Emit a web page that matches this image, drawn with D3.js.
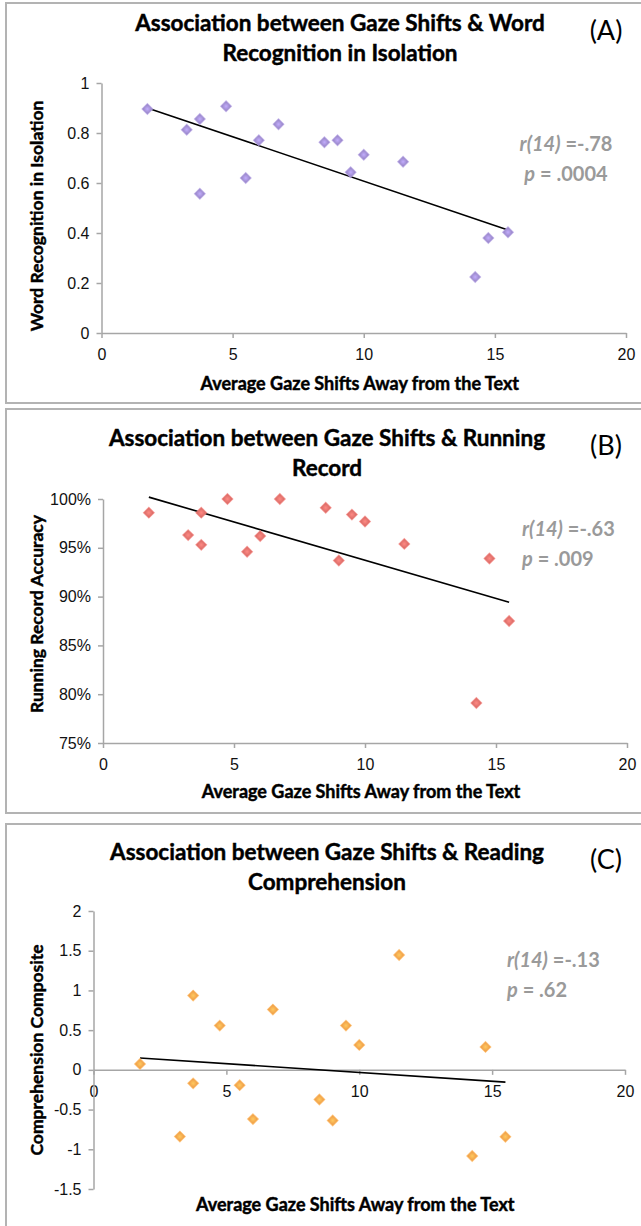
<!DOCTYPE html>
<html lang="en">
    <head>
        <meta charset="utf-8">
        <title>Gaze Shifts Associations</title>
        <script src="https://d3js.org/d3.v7.min.js"></script>
        <style type="text/css">
            body{
                margin: 0;
                background: #fff;
            }
            svg{
                display: block;
                font-family: Lato, "Open Sans", sans-serif;
            }
            .tick text{
                fill: #111;
                font-size: 16px;
            }
            .domain, .tick line{
                stroke: #a6a6a6;
                stroke-width: 1.5px;
            }
            .heavy{
                stroke: #000;
                stroke-width: 0.45px;
            }
        </style>
    </head>
    <body>
        <svg width="641" height="1226"></svg>
        <script type="text/javascript">

        const w = 641;
        const h = 1226;

        //DATA (same 16 children in every panel)
        const gazeShifts = [1.75, 3.25, 3.75, 3.75, 4.75, 5.5, 6, 6.75, 8.5, 9, 9.5, 10, 11.5, 14.25, 14.75, 15.5];
        const wordRecognition = [0.896, 0.813, 0.856, 0.557, 0.907, 0.62, 0.771, 0.835, 0.763, 0.771, 0.643, 0.713, 0.685, 0.224, 0.38, 0.403];
        const runningRecord = [0.986, 0.963, 0.986, 0.953, 1.0, 0.946, 0.962, 1.0, 0.991, 0.937, 0.984, 0.977, 0.954, 0.791, 0.939, 0.875];
        const comprehension = [0.075, -0.84, 0.935, -0.17, 0.557, -0.193, -0.62, 0.759, -0.373, -0.637, 0.557, 0.314, 1.446, -1.085, 0.289, -0.842];

        //TICKS
        const xTicks = [0, 5, 10, 15, 20];
        const wordTicks = [0, 0.2, 0.4, 0.6, 0.8, 1];
        const runningTicks = [0.75, 0.80, 0.85, 0.90, 0.95, 1.0];
        const compTicks = [-1.5, -1, -0.5, 0, 0.5, 1, 1.5, 2];

        //TEXT
        const titles = [
            ["Association between Gaze Shifts & Word", "Recognition in Isolation"],
            ["Association between Gaze Shifts & Running", "Record"],
            ["Association between Gaze Shifts & Reading", "Comprehension"]
        ];
        const panelTags = ["(A)", "(B)", "(C)"];
        const yTitles = ["Word Recognition in Isolation", "Running Record Accuracy", "Comprehension Composite"];
        const xTitle = "Average Gaze Shifts Away from the Text";
        const rValues = ["=-.78", "=-.63", "=-.13"];
        const pValues = [" = .0004", " = .009", " = .62"];

        //plain hyphen minus like the original, not the unicode minus
        const plain = d => String(d);

        //LAYOUT (pixel boxes for each panel)
        const panels = [
            {top: 3, bottom: 403, left: 101.5, right: 626, yTop: 83, yBot: 333, titleX: 340, titleY: 23,
             yTitleY: 216, xTitleY: 384, statX: 566, statAnchor: "middle", statY: 144,
             ys: wordRecognition, ticks: wordTicks, fmt: plain, color: "#9d8bcc", axisAt: null},
            {top: 409, bottom: 813, left: 103, right: 627, yTop: 499, yBot: 743, titleX: 327, titleY: 438,
             yTitleY: 614, xTitleY: 792, statX: 522, statAnchor: "start", statY: 529,
             ys: runningRecord, ticks: runningTicks, fmt: d3.format(".0%"), color: "#dc6f6a", axisAt: null},
            {top: 824, bottom: 1240, left: 93.5, right: 625, yTop: 911, yBot: 1189, titleX: 327, titleY: 852,
             yTitleY: 1050, xTitleY: 1205, statX: 507, statAnchor: "start", statY: 960,
             ys: comprehension, ticks: compTicks, fmt: plain, color: "#f0a24c", axisAt: 0}
        ];

        const svg = d3.select("svg");

        //GRADIENTS for the soft diamond markers
        const defs = svg.append("defs");
        panels.forEach((p, i) => {
            const g = defs.append("radialGradient").attr("id", "mk" + i);
            g.append("stop").attr("offset", "0%").attr("stop-color", d3.color(p.color).brighter(0.6));
            g.append("stop").attr("offset", "100%").attr("stop-color", p.color);
        });

        panels.forEach((p, i) => {
            const data = gazeShifts.map((x, k) => ({x: x, y: p.ys[k]}));

            //FRAME
            svg.append("rect")
               .attr("x", 6).attr("y", p.top)
               .attr("width", 660).attr("height", p.bottom - p.top)
               .attr("fill", "none").attr("stroke", "#b3b3b3").attr("stroke-width", 2);

            //SCALES
            const x = d3.scaleLinear().domain([0, 20]).range([p.left, p.right]);
            const y = d3.scaleLinear().domain(d3.extent(p.ticks)).range([p.yBot, p.yTop]);

            //AXES
            const xAxisY = p.axisAt === null ? p.yBot : y(p.axisAt);
            svg.append("g")
               .attr("transform", `translate(0,${xAxisY})`)
               .call(d3.axisBottom(x).tickValues(xTicks).tickSize(5).tickSizeOuter(0).tickPadding(11));
            svg.append("g")
               .attr("transform", `translate(${p.left},0)`)
               .call(d3.axisLeft(y).tickValues(p.ticks).tickFormat(p.fmt).tickSize(5).tickSizeOuter(0).tickPadding(7));

            //TITLE
            const t = svg.append("text")
               .attr("class", "heavy")
               .attr("x", p.titleX).attr("y", p.titleY)
               .attr("text-anchor", "middle")
               .attr("font-size", 22.5).attr("font-weight", "bold").attr("fill", "#000");
            titles[i].forEach((line, j) => {
                t.append("tspan").attr("x", p.titleX).attr("dy", j === 0 ? "0.35em" : 30).text(line);
            });
            svg.append("text")
               .attr("x", 606).attr("y", p.titleY + 8).attr("dy", "0.35em")
               .attr("text-anchor", "middle").attr("font-size", 27).attr("fill", "#000")
               .text(panelTags[i]);

            //AXIS TITLES
            svg.append("text")
               .attr("class", "heavy")
               .attr("x", (p.left + p.right) / 2 - 4).attr("y", p.xTitleY).attr("dy", "0.35em")
               .attr("text-anchor", "middle").attr("font-size", 18).attr("font-weight", "bold")
               .text(xTitle);
            svg.append("text")
               .attr("class", "heavy")
               .attr("transform", `translate(37,${p.yTitleY}) rotate(-90)`)
               .attr("dy", "0.35em")
               .attr("text-anchor", "middle").attr("font-size", 17.5).attr("font-weight", "bold")
               .text(yTitles[i]);

            //STATS
            const stat = svg.append("g").attr("fill", "#9a9a9a").attr("font-size", 20).attr("font-weight", "bold");
            const r = stat.append("text").attr("x", p.statX).attr("y", p.statY).attr("dy", "0.35em")
                          .attr("text-anchor", p.statAnchor);
            r.append("tspan").attr("font-style", "italic").text("r(14)");
            r.append("tspan").text(" " + rValues[i]);
            const pv = stat.append("text").attr("x", p.statX).attr("y", p.statY + 30).attr("dy", "0.35em")
                           .attr("text-anchor", p.statAnchor);
            pv.append("tspan").attr("font-style", "italic").text("p");
            pv.append("tspan").text(pValues[i]);

            //TREND LINE (least squares over the data)
            const mx = d3.mean(data, d => d.x);
            const my = d3.mean(data, d => d.y);
            const slope = d3.sum(data, d => (d.x - mx) * (d.y - my)) / d3.sum(data, d => (d.x - mx) ** 2);
            const ends = d3.extent(data, d => d.x).map(v => ({x: v, y: my + slope * (v - mx)}));
            svg.append("path")
               .datum(ends)
               .attr("d", d3.line().x(d => x(d.x)).y(d => y(d.y)))
               .attr("stroke", "#000").attr("stroke-width", 1.6).attr("fill", "none");

            //POINTS
            svg.append("g")
               .selectAll("path")
               .data(data)
               .join("path")
               .attr("d", d3.symbol(d3.symbolSquare, 60))
               .attr("transform", d => `translate(${x(d.x)},${y(d.y)}) rotate(45)`)
               .attr("fill", `url(#mk${i})`)
               .attr("stroke", d3.color(p.color).brighter(0.3))
               .attr("stroke-opacity", 0.6)
               .attr("stroke-width", 1);
        });

        </script>
    </body>
</html>
